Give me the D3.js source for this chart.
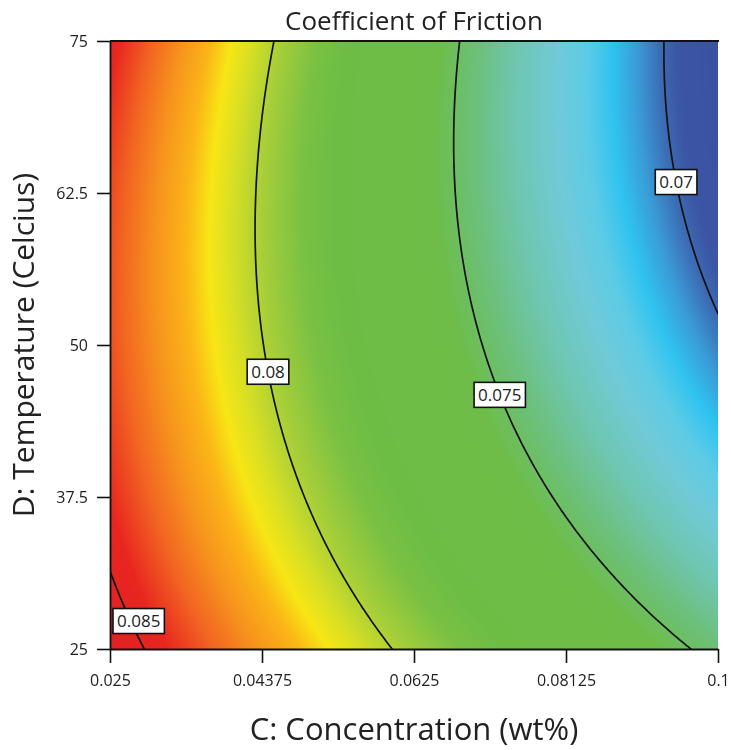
<!DOCTYPE html>
<html><head><meta charset="utf-8">
<script src="https://cdn.jsdelivr.net/npm/d3@7"></script>
<style>
body{margin:0;background:#fff}
#wrap{position:relative;width:731px;height:750px}
canvas,svg{position:absolute;left:0;top:0}
text{font-family:"Open Sans","Noto Sans",sans-serif;fill:#222}
</style>
</head><body><div id="wrap"><canvas id="heat" width="731" height="750"></canvas><svg id="chart" width="731" height="750"></svg></div>
<script>
// ---------- data ----------
const chartTitle = "Coefficient of Friction";
const xTitle = "C: Concentration (wt%)";
const yTitle = "D: Temperature (Celcius)";
const concDomain = [0.025, 0.1];
const tempDomain = [25, 75];
const concTicks = [0.025, 0.04375, 0.0625, 0.08125, 0.1];
const concTickLabels = ["0.025", "0.04375", "0.0625", "0.08125", "0.1"];
const tempTicks = [25, 37.5, 50, 62.5, 75];
const tempTickLabels = ["25", "37.5", "50", "62.5", "75"];
// fitted quadratic response (coded factors): 1, C, D, CD, C^2, D^2
const modelTerms = ["1", "C", "D", "CD", "C2", "D2"];
const modelCoefs = [0.076496, -0.00679, -0.001703, -0.001215, 0.00058, 0.001397];
const contourLevels = [0.07, 0.075, 0.08, 0.085];
const contourLabels = ["0.07", "0.075", "0.08", "0.085"];
const labelTemps = [63.4, 45.9, 47.8, 27.3];
const colorValues = [0.0685, 0.0697, 0.0701, 0.0706, 0.0712, 0.0718, 0.0725, 0.0735, 0.0745, 0.0755, 0.0780, 0.0788, 0.0798, 0.0806, 0.0812, 0.0818, 0.0826, 0.0835, 0.0845, 0.0860];
const colorHexes = ["#3a50a0", "#3b56a5", "#3c6db5", "#3a9ad6", "#2fc3f0", "#5ccbe6", "#70cad8", "#6fc6b0", "#6cc07a", "#6dbd48", "#6dbd45", "#7ac143", "#a6ce39", "#d7df23", "#f7e615", "#fbb517", "#f7941d", "#f26522", "#e8261f", "#e31e24"];

// ---------- layout ----------
const W = 731, H = 750;
const m = {left: 110, right: 13, top: 41, bottom: 101};
const x0 = m.left, x1 = W - m.right, y0 = m.top, y1 = H - m.bottom;

const xScale = d3.scaleLinear().domain(concDomain).range([x0, x1]);
const yScale = d3.scaleLinear().domain(tempDomain).range([y1, y0]);
const color = d3.scaleLinear().domain(colorValues).range(colorHexes).interpolate(d3.interpolateRgb).clamp(true);

const cMid = (concDomain[0] + concDomain[1]) / 2, cHalf = (concDomain[1] - concDomain[0]) / 2;
const tMid = (tempDomain[0] + tempDomain[1]) / 2, tHalf = (tempDomain[1] - tempDomain[0]) / 2;
function response(C, D) {
  const a = (C - cMid) / cHalf, b = (D - tMid) / tHalf;
  const t = [1, a, b, a * b, a * a, b * b];
  return d3.sum(modelCoefs, (k, i) => k * t[i]);
}

// ---------- heat map ----------
const ctx = document.getElementById("heat").getContext("2d");
const pw = Math.round(x1 - x0), ph = Math.round(y1 - y0);
const img = ctx.createImageData(pw, ph);
for (let j = 0; j < ph; j++) {
  const D = yScale.invert(y0 + j + 0.5);
  for (let i = 0; i < pw; i++) {
    const C = xScale.invert(x0 + i + 0.5);
    const c = d3.rgb(color(response(C, D)));
    const k = (j * pw + i) * 4;
    img.data[k] = c.r; img.data[k + 1] = c.g; img.data[k + 2] = c.b; img.data[k + 3] = 255;
  }
}
ctx.putImageData(img, x0, y0);

// ---------- svg ----------
const svg = d3.select("#chart");
svg.append("defs").append("clipPath").attr("id", "plotclip")
  .append("rect").attr("x", x0).attr("y", y0).attr("width", x1 - x0).attr("height", y1 - y0);

// contours
const n = 241;
const grid = new Float64Array(n * n);
for (let j = 0; j < n; j++) {
  const D = tempDomain[0] + j / (n - 1) * (tempDomain[1] - tempDomain[0]);
  for (let i = 0; i < n; i++) {
    const C = concDomain[0] + i / (n - 1) * (concDomain[1] - concDomain[0]);
    grid[j * n + i] = response(C, D);
  }
}
const contours = d3.contours().size([n, n]).thresholds(contourLevels)(grid);
const proj = d3.geoTransform({
  point: function (gx, gy) {
    const C = concDomain[0] + (gx - 0.5) / (n - 1) * (concDomain[1] - concDomain[0]);
    const D = tempDomain[0] + (gy - 0.5) / (n - 1) * (tempDomain[1] - tempDomain[0]);
    this.stream.point(xScale(C), yScale(D));
  }
});
const path = d3.geoPath(proj);
svg.append("g").attr("clip-path", "url(#plotclip)")
  .selectAll("path").data(contours).join("path")
  .attr("d", path).attr("fill", "none").attr("stroke", "#111").attr("stroke-width", 1.7);

// top border
svg.append("line").attr("x1", x0).attr("x2", x1 + 1).attr("y1", y0).attr("y2", y0)
  .attr("stroke", "#111").attr("stroke-width", 1.8);

// axes
const xAxis = d3.axisBottom(xScale).tickValues(concTicks).tickFormat((d, i) => concTickLabels[i]).tickSize(14).tickPadding(12).tickSizeOuter(0);
const gx = svg.append("g").attr("transform", `translate(0,${y1})`).call(xAxis);
const yAxis = d3.axisLeft(yScale).tickValues(tempTicks).tickFormat((d, i) => tempTickLabels[i]).tickSize(13).tickPadding(9).tickSizeOuter(0);
const gy = svg.append("g").attr("transform", `translate(${x0},0)`).call(yAxis);
[gx, gy].forEach(g => {
  g.select(".domain").attr("stroke", "#111").attr("stroke-width", 1.8);
  g.selectAll(".tick line").attr("stroke", "#111").attr("stroke-width", 1.6);
  g.selectAll(".tick text").attr("font-family", '"Open Sans","Noto Sans",sans-serif').attr("font-size", 16).attr("fill", "#333");
});

// contour labels (kept inside the plot frame)
contourLevels.forEach((lev, k) => {
  const D = labelTemps[k];
  let lo = concDomain[0], hi = concDomain[1];
  for (let it = 0; it < 60; it++) {
    const mid = (lo + hi) / 2;
    if (response(mid, D) > lev) lo = mid; else hi = mid;
  }
  let cx = xScale((lo + hi) / 2);
  const cy = yScale(D);
  const g = svg.append("g");
  const t = g.append("text").attr("text-anchor", "middle").attr("dy", "0.36em")
    .attr("font-size", 17).attr("fill", "#222").text(contourLabels[k]);
  const w = t.node().getComputedTextLength() + 8;
  cx = Math.max(x0 + 3 + w / 2, Math.min(x1 - 3 - w / 2, cx));
  g.attr("transform", `translate(${cx},${cy})`);
  g.insert("rect", "text").attr("x", -w / 2).attr("y", -12.5).attr("width", w).attr("height", 25)
    .attr("fill", "#fff").attr("stroke", "#111").attr("stroke-width", 1.6);
});

// titles
svg.append("text").attr("x", (x0 + x1) / 2).attr("y", 30).attr("text-anchor", "middle")
  .attr("font-size", 26).text(chartTitle);
svg.append("text").attr("x", (x0 + x1) / 2).attr("y", 740).attr("text-anchor", "middle")
  .attr("font-size", 31).text(xTitle);
svg.append("text").attr("transform", `translate(34,${(y0 + y1) / 2}) rotate(-90)`).attr("text-anchor", "middle")
  .attr("font-size", 30).text(yTitle);
</script>
</body></html>
